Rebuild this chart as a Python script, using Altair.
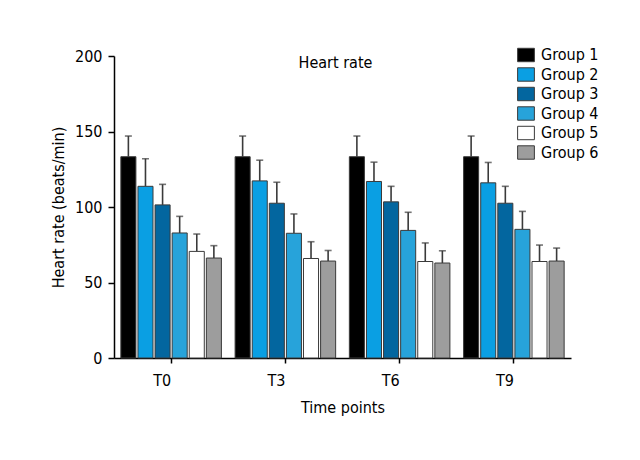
import altair as alt
import pandas as pd

time_points = ["T0", "T3", "T6", "T9"]
groups = ["Group 1", "Group 2", "Group 3", "Group 4", "Group 5", "Group 6"]
colors = ["#000000", "#0a9fe3", "#03669f", "#27a3da", "#ffffff", "#9d9d9d"]

means_T0 = [133.3, 113.7, 101.4, 82.8, 70.6, 66.2]
means_T3 = [133.3, 117.3, 102.5, 82.6, 65.9, 64.2]
means_T6 = [133.3, 116.9, 103.4, 84.5, 63.9, 62.9]
means_T9 = [133.3, 116.0, 102.5, 85.2, 63.9, 64.2]

sd_T0 = [13.7, 18.3, 13.6, 11.0, 11.5, 8.2]
sd_T3 = [13.7, 13.7, 13.9, 12.8, 11.1, 7.0]
sd_T6 = [13.7, 12.8, 10.3, 12.0, 12.3, 8.1]
sd_T9 = [13.7, 13.5, 11.2, 11.9, 10.9, 8.6]

FONT = "DejaVu Sans Condensed, Liberation Sans Narrow, Roboto, sans-serif"

rows = []
for tp, ms, ss in zip(time_points, [means_T0, means_T3, means_T6, means_T9],
                      [sd_T0, sd_T3, sd_T6, sd_T9]):
    for g, m, s in zip(groups, ms, ss):
        rows.append({"time": tp, "group": g, "mean": m, "upper": m + s})
df = pd.DataFrame(rows)

x_enc = alt.X("time:N", sort=time_points,
              scale=alt.Scale(paddingInner=0.12, paddingOuter=0.06),
              axis=alt.Axis(title="Time points", labelAngle=0, tickSize=5,
                            labelPadding=17, titlePadding=11))
xo_enc = alt.XOffset("group:N", sort=groups,
                     scale=alt.Scale(paddingInner=0.12, paddingOuter=0.0))

bars = alt.Chart(df).mark_bar(stroke="#3a3a3a", strokeWidth=1).encode(
    x=x_enc,
    xOffset=xo_enc,
    y=alt.Y("mean:Q", scale=alt.Scale(domain=[0, 200]),
            axis=alt.Axis(title="Heart rate (beats/min)", values=[0, 50, 100, 150, 200],
                          tickSize=6, labelPadding=6, titlePadding=8, grid=False)),
    fill=alt.Fill("group:N", sort=groups,
                  scale=alt.Scale(domain=groups, range=colors),
                  legend=alt.Legend(title=None, orient="none", legendX=404, legendY=-9,
                                    symbolType="M-1.25,-1H1.25V1H-1.25Z",
                                    symbolSize=180, symbolStrokeColor="#3a3a3a",
                                    symbolStrokeWidth=1, labelFontSize=16,
                                    labelFont=FONT, rowPadding=1.5, labelOffset=7)),
)

err = alt.Chart(df).mark_rule(color="#3a3a3a", strokeWidth=1.6).encode(
    x=alt.X("time:N", sort=time_points),
    xOffset=alt.XOffset("group:N", sort=groups),
    y="mean:Q",
    y2="upper:Q",
)

caps = alt.Chart(df).mark_tick(color="#3a3a3a", thickness=1.6, size=7, orient="horizontal").encode(
    x=alt.X("time:N", sort=time_points),
    xOffset=alt.XOffset("group:N", sort=groups),
    y="upper:Q",
)

chart = alt.layer(err, bars, caps).properties(
    width=457, height=302,
    title=alt.TitleParams("Heart rate", anchor="middle", offset=-24, fontSize=16,
                          font=FONT, fontWeight="normal", dx=-7),
    autosize=alt.AutoSizeParams(type="none"),
    padding={"left": 106, "top": 48, "right": 61, "bottom": 94},
).configure_view(stroke=None).configure_axis(
    domainColor="#000000", domainWidth=1.5, tickColor="#000000", tickWidth=1.5,
    labelFont=FONT, titleFont=FONT, labelFontSize=16, titleFontSize=16,
    labelColor="#000000", titleColor="#000000", titleFontWeight="normal",
).configure_axisY(domain=True)

chart.save("out.html", embed_options={"renderer": "svg", "actions": False})
